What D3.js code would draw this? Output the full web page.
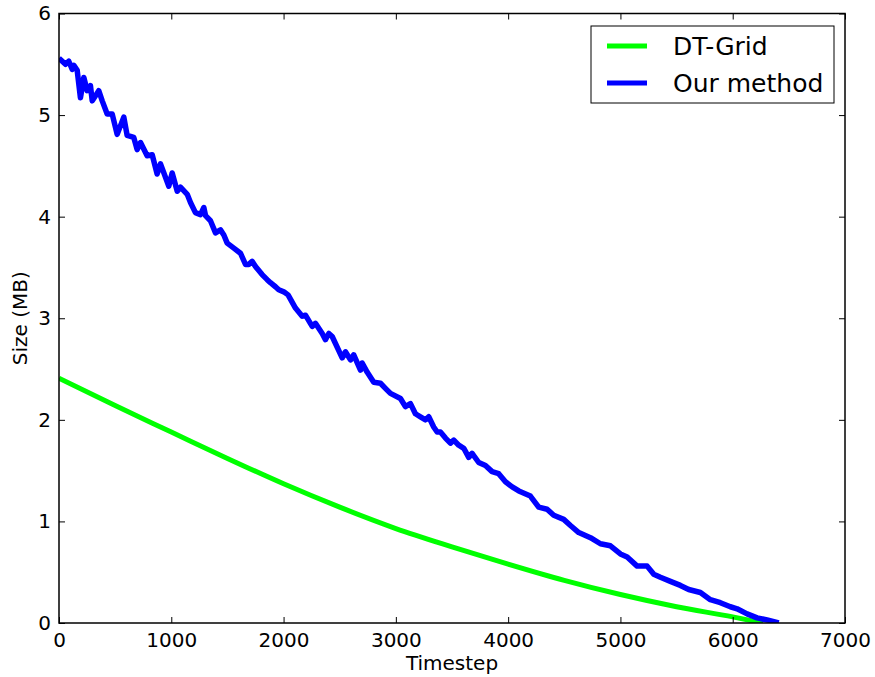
<!DOCTYPE html>
<html>
<head>
<meta charset="utf-8">
<script src="https://cdn.jsdelivr.net/npm/d3@7"></script>
<style>
  body { margin: 0; background: #fff; }
  svg { display: block; font-family: "DejaVu Sans", sans-serif; }
</style>
</head>
<body>
<svg id="chart" width="875" height="677"></svg>
<script>
const xTicks = [0, 1000, 2000, 3000, 4000, 5000, 6000, 7000];
const yTicks = [0, 1, 2, 3, 4, 5, 6];
const seriesNames = ["DT-Grid", "Our method"];

const greenT = [0, 500, 1000, 1500, 2000, 2500, 3000, 3500, 4000, 4500, 5000, 5500, 6000, 6270];
const greenV = [2.41, 2.14, 1.88, 1.62, 1.37, 1.14, 0.93, 0.75, 0.58, 0.42, 0.28, 0.16, 0.06, 0.0];

const blueT = [0, 58, 87, 118, 132, 162, 191, 221, 251, 280, 296, 354, 385, 429, 474, 518, 577, 607, 666, 696,
  726, 785, 830, 874, 904, 978, 1008, 1053, 1082, 1142, 1171, 1215, 1260, 1290, 1305, 1349, 1394, 1438, 1468, 1498,
  1557, 1616, 1661, 1690, 1720, 1750, 1809, 1854, 1883, 1928, 1957, 2002, 2040, 2106, 2166, 2195, 2255, 2284, 2344, 2373,
  2403, 2433, 2522, 2551, 2596, 2625, 2685, 2700, 2744, 2803, 2863, 2907, 2952, 3041, 3085, 3130, 3174, 3219, 3264, 3293,
  3337, 3368, 3397, 3442, 3486, 3516, 3560, 3605, 3649, 3679, 3738, 3798, 3857, 3916, 3976, 4036, 4095, 4198, 4272, 4347,
  4406, 4495, 4555, 4629, 4733, 4822, 4911, 5000, 5060, 5149, 5238, 5297, 5356, 5445, 5534, 5608, 5712, 5801, 5890, 5979,
  6039, 6128, 6217, 6306, 6410];
const blueV = [5.56, 5.50, 5.53, 5.45, 5.49, 5.44, 5.17, 5.37, 5.24, 5.29, 5.14, 5.24, 5.14, 5.01, 5.01, 4.81, 4.98, 4.80, 4.78, 4.66,
  4.73, 4.60, 4.61, 4.42, 4.52, 4.30, 4.43, 4.25, 4.29, 4.22, 4.14, 4.04, 4.02, 4.09, 4.01, 3.96, 3.84, 3.87, 3.82, 3.74,
  3.69, 3.64, 3.53, 3.53, 3.56, 3.51, 3.43, 3.38, 3.35, 3.31, 3.28, 3.26, 3.23, 3.10, 3.02, 3.03, 2.92, 2.95, 2.85, 2.79,
  2.85, 2.82, 2.61, 2.67, 2.59, 2.64, 2.49, 2.56, 2.47, 2.37, 2.36, 2.31, 2.26, 2.21, 2.13, 2.16, 2.06, 2.03, 2.00, 2.03,
  1.93, 1.88, 1.88, 1.82, 1.77, 1.80, 1.75, 1.72, 1.63, 1.67, 1.58, 1.55, 1.49, 1.47, 1.39, 1.34, 1.30, 1.25, 1.14, 1.12,
  1.06, 1.02, 0.96, 0.89, 0.84, 0.78, 0.76, 0.68, 0.65, 0.56, 0.56, 0.48, 0.45, 0.41, 0.37, 0.33, 0.30, 0.23, 0.20, 0.16,
  0.14, 0.09, 0.05, 0.03, 0.00];

const colors = ["#00ff00", "#0000ff"];

const L = 59, R = 845, T = 13.5, B = 623;
const svg = d3.select("#chart");
const x = d3.scaleLinear().domain([0, 7000]).range([L, R]);
const y = d3.scaleLinear().domain([0, 6]).range([B, T]);

const fs = 20;
const tickLen = 6;

svg.append("clipPath").attr("id", "clip").append("rect")
  .attr("x", L).attr("y", T).attr("width", R - L).attr("height", B - T);

const greenData = greenT.map((t, i) => [t, greenV[i]]);
const blueData = blueT.map((t, i) => [t, blueV[i]]);

const g = svg.append("g").attr("clip-path", "url(#clip)");
g.append("path").datum(greenData)
  .attr("fill", "none").attr("stroke", colors[0]).attr("stroke-width", 5)
  .attr("stroke-linejoin", "round").attr("stroke-linecap", "butt")
  .attr("d", d3.line().x(d => x(d[0])).y(d => y(d[1])).curve(d3.curveMonotoneX));
g.append("path").datum(blueData)
  .attr("fill", "none").attr("stroke", colors[1]).attr("stroke-width", 5.5)
  .attr("stroke-linejoin", "round").attr("stroke-linecap", "butt")
  .attr("d", d3.line().x(d => x(d[0])).y(d => y(d[1])));

const axB = svg.append("g").attr("transform", `translate(0,${B})`)
  .call(d3.axisBottom(x).tickValues(xTicks).tickSize(-tickLen).tickPadding(10).tickFormat(d3.format("d")));
const axT = svg.append("g").attr("transform", `translate(0,${T})`)
  .call(d3.axisTop(x).tickValues(xTicks).tickSize(-tickLen).tickFormat(""));
const axL = svg.append("g").attr("transform", `translate(${L},0)`)
  .call(d3.axisLeft(y).tickValues(yTicks).tickSize(-tickLen).tickPadding(8).tickFormat(d3.format("d")));
const axR = svg.append("g").attr("transform", `translate(${R},0)`)
  .call(d3.axisRight(y).tickValues(yTicks).tickSize(-tickLen).tickFormat(""));

[axB, axT, axL, axR].forEach(a => {
  a.select(".domain").remove();
  a.selectAll(".tick line").attr("stroke", "#000").attr("stroke-width", 1);
  a.selectAll("text").attr("font-family", "DejaVu Sans").attr("font-size", fs).attr("fill", "#000");
});
axB.selectAll("text").attr("dy", "0.71em");

svg.append("rect").attr("x", L).attr("y", T).attr("width", R - L).attr("height", B - T)
  .attr("fill", "none").attr("stroke", "#000").attr("stroke-width", 1.5);

svg.append("text").attr("x", (L + R) / 2).attr("y", 670).attr("text-anchor", "middle")
  .attr("font-size", fs).text("Timestep");
svg.append("text").attr("transform", `translate(27,${(T + B) / 2}) rotate(-90)`)
  .attr("text-anchor", "middle").attr("font-size", fs).text("Size (MB)");

const lg = svg.append("g");
lg.append("rect").attr("x", 591).attr("y", 26).attr("width", 243).attr("height", 77)
  .attr("fill", "#fff").attr("stroke", "#000").attr("stroke-width", 1);
const legY = [46, 83];
seriesNames.forEach((name, i) => {
  lg.append("line").attr("x1", 607).attr("x2", 647).attr("y1", legY[i]).attr("y2", legY[i])
    .attr("stroke", colors[i]).attr("stroke-width", 5);
  lg.append("text").attr("x", 673).attr("y", legY[i]).attr("dy", "0.36em")
    .attr("font-size", 25).text(name);
});
</script>
</body>
</html>
